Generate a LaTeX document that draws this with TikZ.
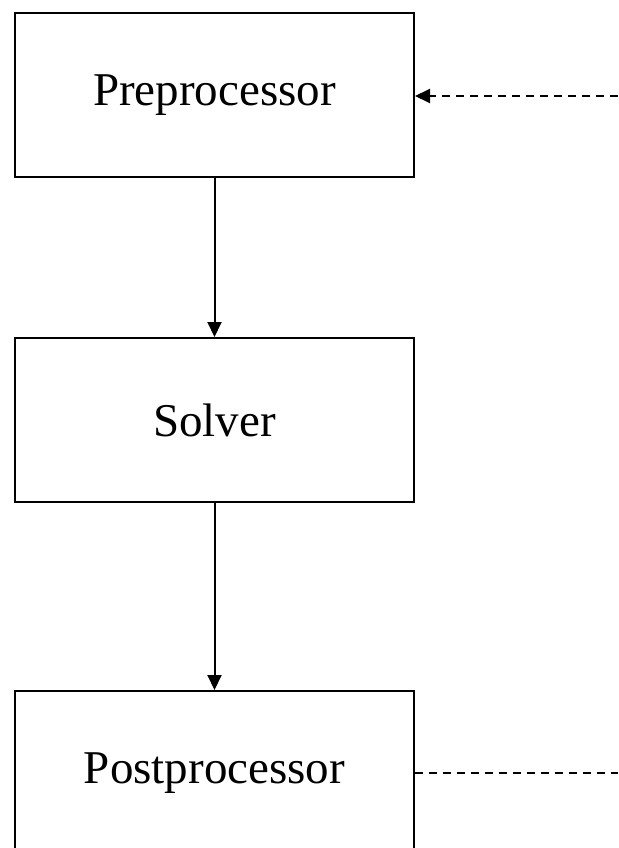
\documentclass[tikz,border=0pt]{standalone}
\usepackage{fontspec}
\setmainfont{Liberation Serif}
\usetikzlibrary{arrows.meta,positioning}
\tikzset{
  stage/.style={draw,line width=2pt,minimum width=399pt,minimum height=164pt,inner sep=0pt,font=\fontsize{47}{56}\selectfont},
  flowarrow/.style={-{Triangle[length=15pt,width=14pt]},line width=2pt},
  feedline/.style={line width=2pt,dash pattern=on 8pt off 6pt}
}

\begin{document}
\begin{tikzpicture}[x=1pt,y=1pt]
  \useasboundingbox (0,0) rectangle (618,-848);
  % stages
  \node[stage] (pre) at (214.5,-95) {Preprocessor};
  \node[stage,below=159pt of pre] (solve) {Solver};
  \node[stage,below=187pt of solve] (post) {Postprocessor};

  % main flow
  \draw[flowarrow] (pre) -- (solve);
  \draw[flowarrow] (solve) -- (post);

  % feedback loop
  \coordinate (loopin) at (618,-96);
  \coordinate (loopout) at (618,-773);
  \draw[feedline,flowarrow] (loopin) -- (loopin -| pre.east);
  \draw[feedline] (loopout -| post.east) -- (loopout);
\end{tikzpicture}
\end{document}
